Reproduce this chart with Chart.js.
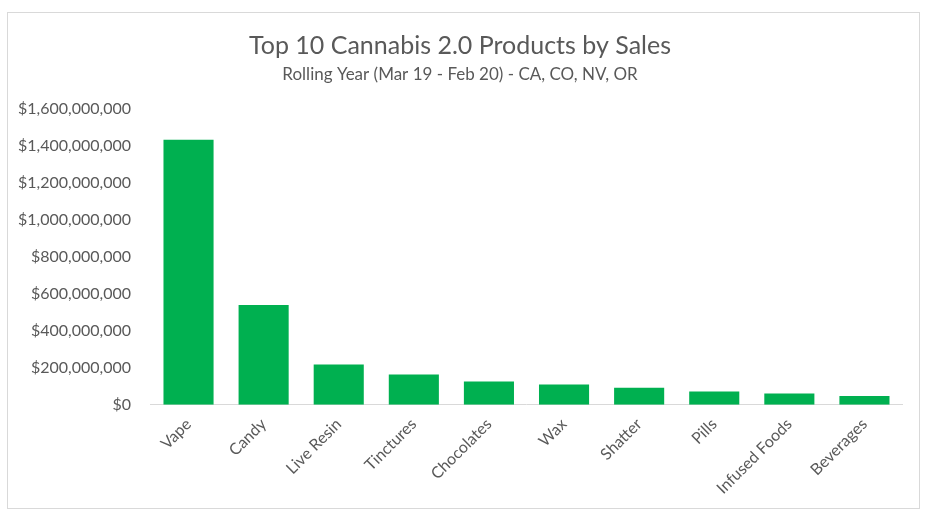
<!DOCTYPE html>
<html>
<head>
<meta charset="utf-8">
<script src="https://cdn.jsdelivr.net/npm/chart.js@4"></script>
<style>
  html, body { margin: 0; padding: 0; background: #fff; }
  #box {
    position: absolute; left: 7px; top: 12px;
    width: 913px; height: 497px;
    border: 1px solid #d9d9d9; box-sizing: border-box;
  }
</style>
</head>
<body>
<div id="box"><canvas id="c"></canvas></div>
<script>
const categories = ['Vape', 'Candy', 'Live Resin', 'Tinctures', 'Chocolates', 'Wax', 'Shatter', 'Pills', 'Infused Foods', 'Beverages'];
const sales = [1431000000, 538000000, 217000000, 163000000, 125000000, 110000000, 92000000, 72000000, 61000000, 47000000];
const yTicks = [0, 200000000, 400000000, 600000000, 800000000, 1000000000, 1200000000, 1400000000, 1600000000];

const grey = '#595959';
const font = 'Lato, "Open Sans", sans-serif';

new Chart(document.getElementById('c'), {
    type: 'bar',
    data: {
        labels: categories,
        datasets: [{
            label: 'Sales',
            data: sales,
            backgroundColor: '#00B050',
            categoryPercentage: 1,
            barPercentage: 0.667
        }]
    },
    options: {
        responsive: true,
        maintainAspectRatio: false,
        animation: false,
        layout: { padding: { left: 10, right: 17, top: 0, bottom: 0 } },
        plugins: {
            legend: { display: false },
            tooltip: { enabled: false },
            title: {
                display: true,
                text: 'Top 10 Cannabis 2.0 Products by Sales',
                color: grey,
                font: { family: font, size: 25, weight: 'normal' },
                padding: { top: 18, bottom: 3 }
            },
            subtitle: {
                display: true,
                text: 'Rolling Year (Mar 19 - Feb 20) - CA, CO, NV, OR',
                color: grey,
                font: { family: font, size: 17 },
                padding: { bottom: 24 }
            }
        },
        scales: {
            x: {
                grid: { display: false, drawTicks: false },
                border: { color: '#d9d9d9', width: 1 },
                ticks: {
                    color: grey,
                    font: { family: font, size: 16 },
                    maxRotation: 45,
                    minRotation: 45,
                    padding: 10
                }
            },
            y: {
                min: 0,
                max: 1600000000,
                afterBuildTicks: function(axis) {
                    axis.ticks = yTicks.map(v => ({ value: v }));
                },
                afterFit: function(axis) {
                    axis.width -= 20; // drop the extra padding on the outer side
                },
                grid: { display: false, drawTicks: false },
                border: { display: false },
                ticks: {
                    color: grey,
                    font: { family: font, size: 16 },
                    padding: 20,
                    callback: function(value) {
                        return '$' + value.toLocaleString('en-US');
                    }
                }
            }
        }
    }
});
</script>
</body>
</html>
